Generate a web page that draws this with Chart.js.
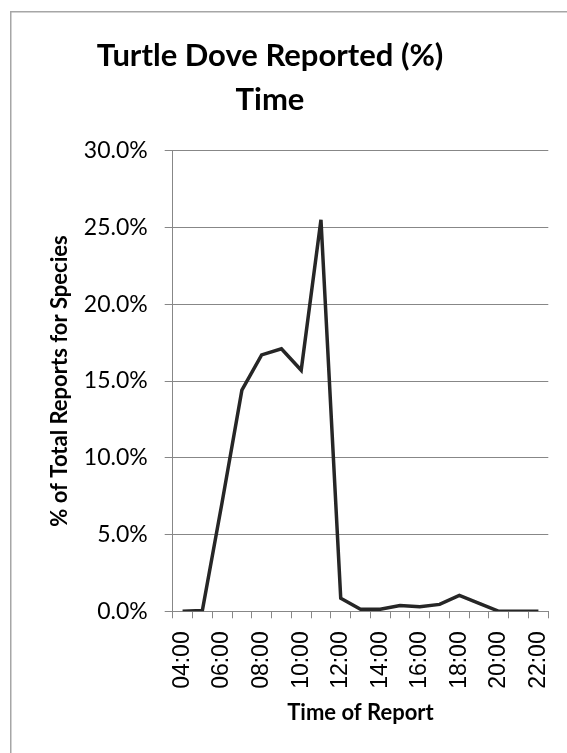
<!DOCTYPE html>
<html>
<head>
<meta charset="utf-8">
<script src="https://cdn.jsdelivr.net/npm/chart.js@4/dist/chart.umd.min.js"></script>
<style>
  html, body { margin: 0; padding: 0; background: #ffffff; }
  #wrap { position: relative; width: 567px; height: 753px; }
</style>
</head>
<body>
<div id="wrap"><canvas id="c" width="567" height="753"></canvas></div>
<script>
// ---- data ----
const categories = ['04:00','05:00','06:00','07:00','08:00','09:00','10:00','11:00','12:00','13:00','14:00','15:00','16:00','17:00','18:00','19:00','20:00','21:00','22:00'];
const reportedPct = [0.0, 0.05, 7.1, 14.4, 16.7, 17.1, 15.7, 25.5, 0.85, 0.13, 0.13, 0.38, 0.3, 0.45, 1.04, 0.52, 0.0, 0.0, 0.0];
const yTicks = [0, 5, 10, 15, 20, 25, 30];
const titleLines = ['Turtle Dove Reported (%)', 'Time'];
const xTitle = 'Time of Report';
const yTitle = '% of Total Reports for Species';

const GRID = '#878787';

const framePlugin = {
  id: 'frame',
  beforeDraw(chart) {
    const ctx = chart.ctx;
    ctx.save();
    ctx.strokeStyle = '#a6a6a6';
    ctx.lineWidth = 1.5;
    ctx.beginPath();
    ctx.moveTo(10.75, 753);
    ctx.lineTo(10.75, 11.75);
    ctx.lineTo(567, 11.75);
    ctx.stroke();
    ctx.restore();
  },
  afterLayout(chart) {
    // centre the title over the original chart frame
    if (chart.titleBlock) {
      chart.titleBlock.left = 10;
      chart.titleBlock.right = 530;
    }
  }
};

new Chart(document.getElementById('c'), {
  type: 'line',
  data: {
    labels: categories,
    datasets: [{
      label: 'Turtle Dove',
      data: reportedPct,
      borderColor: '#262626',
      borderWidth: 3.5,
      pointRadius: 0,
      tension: 0,
      fill: false
    }]
  },
  options: {
    responsive: false,
    animation: false,
    layout: { padding: { left: 0, right: 18.7, top: 0, bottom: 0 } },
    plugins: {
      legend: { display: false },
      tooltip: { enabled: false },
      title: {
        display: true,
        text: titleLines,
        color: '#000000',
        font: { family: 'Lato', size: 31, weight: 'bold', lineHeight: 1.4 },
        padding: { top: 34.5, bottom: 29.4 }
      }
    },
    scales: {
      x: {
        type: 'category',
        offset: true,
        afterFit(scale) {
          scale.height = 141.7;
          scale.paddingLeft = 0;
          scale.paddingRight = 0;
        },
        grid: {
          offset: true,
          drawOnChartArea: false,
          drawTicks: true,
          tickLength: 7,
          color: GRID,
          lineWidth: 1
        },
        border: { display: true, color: GRID, width: 1 },
        ticks: {
          autoSkip: false,
          minRotation: 90,
          maxRotation: 90,
          padding: 13,
          color: '#000000',
          font: { family: 'Liberation Sans', size: 23 },
          callback(v, i) { return i % 2 === 0 ? categories[i] : ''; }
        },
        title: {
          display: true,
          text: xTitle,
          color: '#000000',
          font: { family: 'Lato', size: 22, weight: 'bold', lineHeight: 1.2 },
          padding: { top: 0, bottom: 26.8 }
        }
      },
      y: {
        min: 0,
        max: 30,
        afterFit(scale) { scale.width = 172.7; },
        afterBuildTicks(scale) { scale.ticks = yTicks.map(v => ({ value: v })); },
        grid: {
          drawOnChartArea: true,
          drawTicks: true,
          tickLength: 8,
          color: GRID,
          lineWidth: 1
        },
        border: { display: true, color: GRID, width: 1 },
        ticks: {
          padding: 17,
          color: '#000000',
          font: { family: 'Lato', size: 23 },
          callback(v) { return Number(v).toFixed(1) + '%'; }
        },
        title: {
          display: true,
          text: yTitle,
          color: '#000000',
          font: { family: 'Lato', size: 22, weight: 'bold', lineHeight: 1.2 },
          padding: { top: 46.8, bottom: 0 }
        }
      }
    }
  },
  plugins: [framePlugin]
});
</script>
</body>
</html>
